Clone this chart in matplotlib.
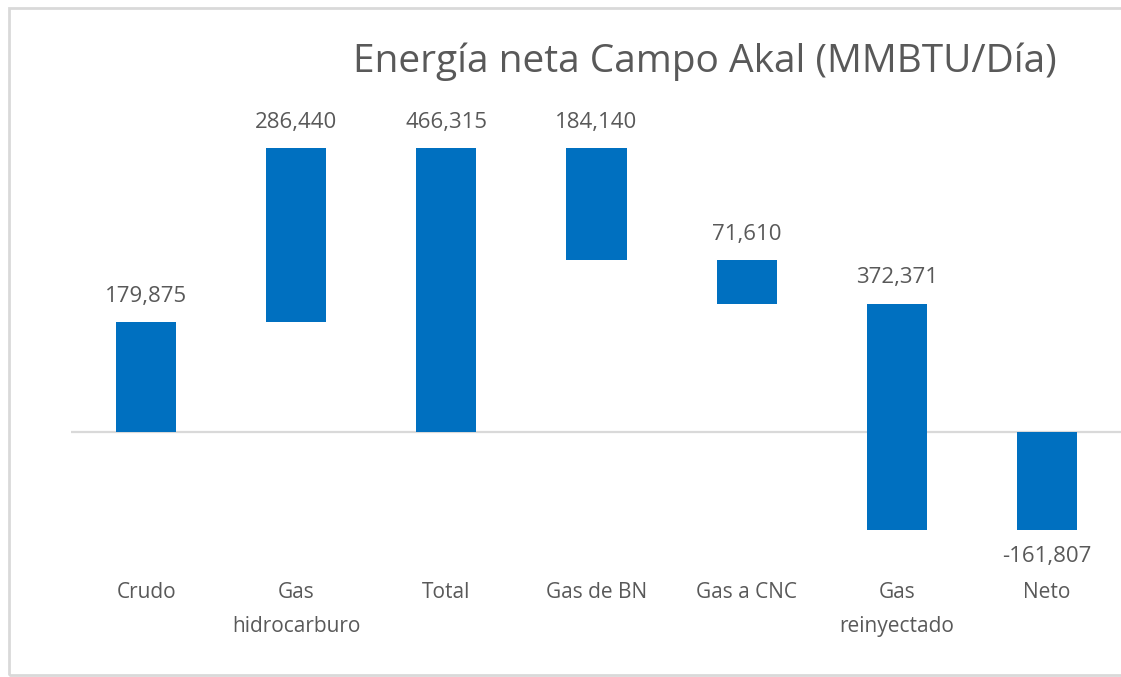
import numpy as np
import matplotlib.pyplot as plt
from matplotlib.patches import Rectangle
import matplotlib.transforms as mtransforms

plt.rcParams['font.family'] = ['Open Sans', 'DejaVu Sans']

# data
categories = ['Crudo', 'Gas\nhidrocarburo', 'Total', 'Gas de BN', 'Gas a CNC',
              'Gas\nreinyectado', 'Neto']
values = [179875, 286440, 466315, -184140, -71610, -372371, -161807]
is_total = [False, False, True, False, False, False, True]

BLUE = '#0070C0'
GRAY = '#595959'

# waterfall bottoms / tops
running = 0
bottoms, heights = [], []
for v, tot in zip(values, is_total):
    if tot:
        bottoms.append(0)
        heights.append(v)
        running = v
    else:
        bottoms.append(running)
        heights.append(v)
        running += v

fig = plt.figure(figsize=(11.21, 6.77), dpi=100)
W, H = 1121, 677
# axes placed in pixel terms
x0, x1 = 71, 1122
ytop, ybot = 97, 584
ax = fig.add_axes([x0 / W, (H - ybot) / H, (x1 - x0) / W, (ybot - ytop) / H])

x = np.arange(len(categories))
ax.bar(x, heights, bottom=bottoms, width=0.4, color=BLUE, zorder=3)
ax.axhline(0, color='#D9D9D9', lw=1.6, zorder=2)

ax.set_xlim(-0.5, len(categories) - 0.5)
ax.set_ylim(-250000, 550000)
ax.axis('off')

# value labels
for xi, b, h, tot in zip(x, bottoms, heights, is_total):
    lo, hi = min(b, b + h), max(b, b + h)
    txt = f'{h:,}' if tot else f'{abs(h):,}'
    if tot and h < 0:
        ax.annotate(txt, (xi, lo), xytext=(0, -19), textcoords='offset points',
                    ha='center', va='center', fontsize=16, color=GRAY)
    else:
        ax.annotate(txt, (xi, hi), xytext=(0, 18.5), textcoords='offset points',
                    ha='center', va='center', fontsize=16, color=GRAY)

# category labels
trans = mtransforms.blended_transform_factory(ax.transData, ax.transAxes)
for xi, c in zip(x, categories):
    ax.text(xi, (ybot - 582) / (ybot - ytop), c, transform=trans, ha='center',
            va='top', fontsize=15, color=GRAY, linespacing=1.8)

fig.text(705 / W, 1 - 62 / H, 'Energía neta Campo Akal (MMBTU/Día)',
         ha='center', va='center', fontsize=28, color=GRAY)

# chart border
fig.patches.append(Rectangle((9 / W, 2 / H), 1.2, (675 - 2 - 6) / H + 0.0,
                             transform=fig.transFigure, fill=False,
                             edgecolor='#D9D9D9', lw=2))

fig.savefig('out.png', dpi=100)
